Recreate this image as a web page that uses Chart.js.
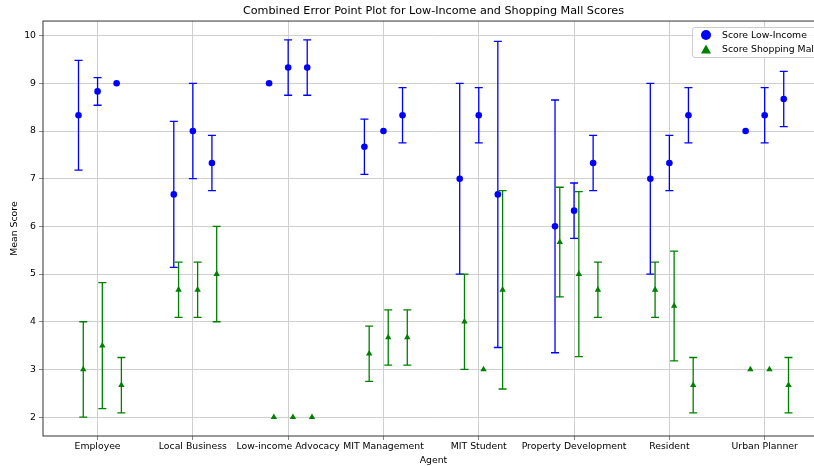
<!DOCTYPE html>
<html>
<head>
<meta charset="utf-8">
<title>Combined Error Point Plot</title>
<script src="https://cdn.jsdelivr.net/npm/chart.js@4.4.0/dist/chart.umd.min.js"></script>
<style>
  html, body { margin: 0; padding: 0; background: #fff; overflow: hidden; }
  #wrap { position: relative; width: 867px; height: 466px; }
  #legend {
    position: absolute; left: 692px; top: 27px; width: 127px; height: 29px;
    border: 1px solid #cccccc; border-radius: 3px; background: rgba(255,255,255,0.8);
    font-family: 'DejaVu Sans', sans-serif; font-size: 9.3px; color: #000;
  }
  #legend .item { position: absolute; left: 0; height: 12px; white-space: nowrap; }
  #legend svg { position: absolute; left: 8px; top: 1px; }
  #legend span { position: absolute; left: 29px; top: 0; line-height: 12px; }
</style>
</head>
<body>
<div id="wrap">
  <canvas id="errChart" width="867" height="466"></canvas>
  <div id="legend"></div>
</div>
<script>
// ===== Data =====
const categories = ['Employee', 'Local Business', 'Low-income Advocacy', 'MIT Management',
  'MIT Student', 'Property Development', 'Resident', 'Urban Planner'];
const yTickValues = [2, 3, 4, 5, 6, 7, 8, 9, 10];

// three scores per agent, mean and +/- error
const lowIncomeMeans = [[8.33, 8.83, 9.0], [6.67, 8.0, 7.33], [9.0, 9.33, 9.33], [7.67, 8.0, 8.33],
  [7.0, 8.33, 6.67], [6.0, 6.33, 7.33], [7.0, 7.33, 8.33], [8.0, 8.33, 8.67]];
const lowIncomeErrors = [[1.15, 0.29, 0], [1.53, 1.0, 0.58], [0, 0.58, 0.58], [0.58, 0, 0.58],
  [2.0, 0.58, 3.21], [2.65, 0.58, 0.58], [2.0, 0.58, 0.58], [0, 0.58, 0.58]];
const mallMeans = [[3.0, 3.5, 2.67], [4.67, 4.67, 5.0], [2.0, 2.0, 2.0], [3.33, 3.67, 3.67],
  [4.0, 3.0, 4.67], [5.67, 5.0, 4.67], [4.67, 4.33, 2.67], [3.0, 3.0, 2.67]];
const mallErrors = [[1.0, 1.32, 0.58], [0.58, 0.58, 1.0], [0, 0, 0], [0.58, 0.58, 0.58],
  [1.0, 0, 2.08], [1.15, 1.73, 0.58], [0.58, 1.15, 0.58], [0, 0, 0.58]];

const FONT = { family: 'DejaVu Sans', size: 9.3 };
const subOffsets = [-0.2, 0, 0.2];

function buildPoints(means, errors, shift) {
  const pts = [];
  means.forEach((row, i) => {
    row.forEach((m, j) => {
      pts.push({ x: i + subOffsets[j] + shift, y: m, err: errors[i][j] });
    });
  });
  return pts;
}

// ===== Plugins =====
const errorBars = {
  id: 'errorBars',
  beforeDatasetsDraw(chart) {
    const ctx = chart.ctx;
    const yScale = chart.scales.y;
    ctx.save();
    chart.data.datasets.forEach((ds, di) => {
      const meta = chart.getDatasetMeta(di);
      ctx.strokeStyle = ds.borderColor;
      ctx.lineWidth = 1.3;
      meta.data.forEach((pt, j) => {
        const d = ds.data[j];
        if (!d.err) return;
        const top = yScale.getPixelForValue(d.y + d.err);
        const bot = yScale.getPixelForValue(d.y - d.err);
        ctx.beginPath();
        ctx.moveTo(pt.x, top); ctx.lineTo(pt.x, bot);
        ctx.moveTo(pt.x - 4, top); ctx.lineTo(pt.x + 4, top);
        ctx.moveTo(pt.x - 4, bot); ctx.lineTo(pt.x + 4, bot);
        ctx.stroke();
      });
    });
    ctx.restore();
  }
};

// frame around the plot + center title over plot area
const frame = {
  id: 'frame',
  afterLayout(chart) {
    const a = chart.chartArea;
    if (chart.titleBlock) {
      chart.titleBlock.left = a.left;
      chart.titleBlock.right = a.right;
      chart.titleBlock.width = a.right - a.left;
    }
  },
  afterDatasetsDraw(chart) {
    const { ctx, chartArea: a } = chart;
    ctx.save();
    ctx.strokeStyle = '#333';
    ctx.lineWidth = 1;
    ctx.strokeRect(a.left, a.top, a.right - a.left, a.bottom - a.top);
    ctx.restore();
  }
};

// ===== Chart =====
const ctx = document.getElementById('errChart').getContext('2d');
const errChart = new Chart(ctx, {
  type: 'scatter',
  data: {
    datasets: [{
      label: 'Score Low-Income',
      data: buildPoints(lowIncomeMeans, lowIncomeErrors, 0),
      backgroundColor: '#0000ff',
      borderColor: '#0000ff',
      pointStyle: 'circle',
      pointRadius: 3.3,
      borderWidth: 0
    }, {
      label: 'Score Shopping Mall',
      data: buildPoints(mallMeans, mallErrors, 0.05),
      backgroundColor: '#008000',
      borderColor: '#008000',
      pointStyle: 'triangle',
      pointRadius: 3.7,
      borderWidth: 0
    }]
  },
  options: {
    responsive: false,
    animation: false,
    layout: { padding: { left: 0, right: 43, top: 0, bottom: 0 } },
    plugins: {
      legend: { display: false },
      tooltip: { enabled: false },
      title: {
        display: true,
        text: 'Combined Error Point Plot for Low-Income and Shopping Mall Scores',
        color: '#000',
        font: { family: 'DejaVu Sans', size: 11.2, weight: 'normal' },
        padding: { top: 4.8, bottom: 2.8 }
      }
    },
    scales: {
      x: {
        type: 'linear',
        min: -0.5725,
        max: 7.6225,
        afterBuildTicks: s => { s.ticks = categories.map((c, i) => ({ value: i })); },
        afterFit: s => { s.height = 30; },
        ticks: {
          callback: v => categories[v],
          color: '#000', font: FONT, padding: 1.5,
          autoSkip: false, maxRotation: 0
        },
        grid: { color: '#cfcfcf', lineWidth: 1, tickColor: '#888', tickLength: 4 },
        border: { display: false },
        title: { display: true, text: 'Agent', color: '#000', font: FONT, padding: { top: 0, bottom: 0 } }
      },
      y: {
        min: 1.604,
        max: 10.306,
        afterBuildTicks: s => { s.ticks = yTickValues.map(v => ({ value: v })); },
        afterFit: s => { s.width = 43; },
        ticks: { color: '#000', font: FONT, padding: 3 },
        grid: { color: '#cfcfcf', lineWidth: 1, tickColor: '#888', tickLength: 4 },
        border: { display: false },
        title: { display: true, text: 'Mean Score', color: '#000', font: FONT, padding: { top: 9.5, bottom: 0 } }
      }
    }
  },
  plugins: [errorBars, frame]
});

// ===== Legend (upper right, inside the plot) =====
const legend = document.getElementById('legend');
errChart.data.datasets.forEach((ds, i) => {
  const item = document.createElement('div');
  item.className = 'item';
  item.style.top = (1 + i * 14) + 'px';
  const shape = ds.pointStyle === 'triangle'
    ? '<polygon points="5,0.5 10,9.5 0,9.5" fill="' + ds.backgroundColor + '"/>'
    : '<circle cx="5" cy="5" r="5" fill="' + ds.backgroundColor + '"/>';
  item.innerHTML = '<svg width="10" height="10">' + shape + '</svg><span>' + ds.label + '</span>';
  legend.appendChild(item);
});
</script>
</body>
</html>
